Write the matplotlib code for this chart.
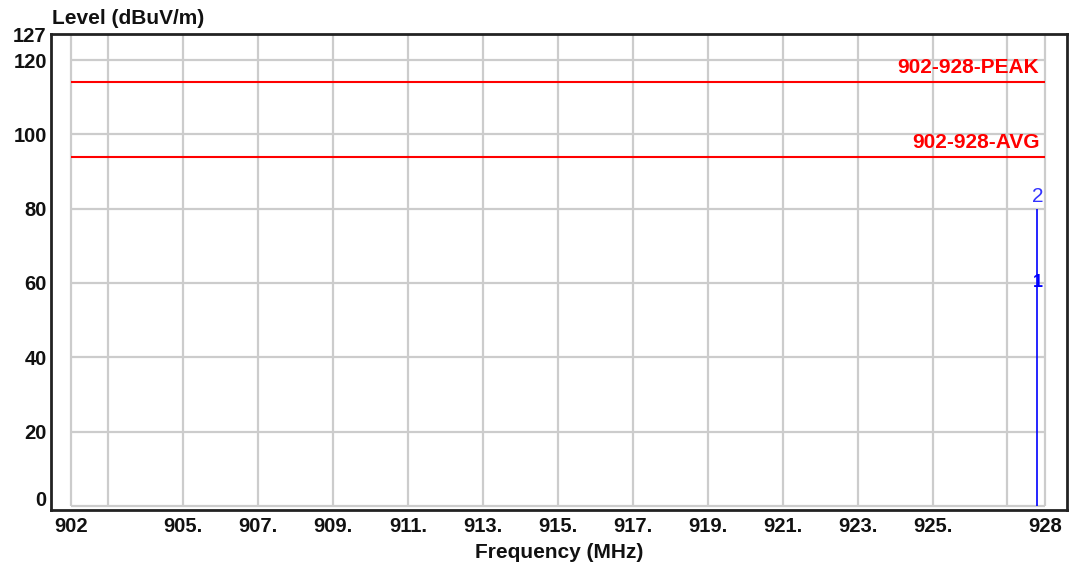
import matplotlib
matplotlib.use("Agg")
import matplotlib.pyplot as plt
from matplotlib.transforms import ScaledTranslation

plt.rcParams['font.family'] = ['Liberation Sans', 'DejaVu Sans']

# Axis ticks
xtick_values = [902, 905, 907, 909, 911, 913, 915, 917, 919, 921, 923, 925, 928]
xtick_labels = ["902", "905.", "907.", "909.", "911.", "913.", "915.", "917.", "919.",
                "921.", "923.", "925.", "928"]
xgrid_values = [902, 903, 905, 907, 909, 911, 913, 915, 917, 919, 921, 923, 925, 927, 928]
ytick_values = [0, 20, 40, 60, 80, 100, 120, 127]
ygrid_values = [0, 20, 40, 60, 80, 100, 120]

# Limit lines
limit_names = ["902-928-PEAK", "902-928-AVG"]
limit_levels = [114, 94]

# Measured emission and markers
emission_freq = 927.8
emission_level = 80
marker_labels = ["1", "2"]
marker_freqs = [927.8, 927.8]
marker_levels = [60, 80]

W, H = 1074, 569
fig = plt.figure(figsize=(W / 100, H / 100), dpi=100)
ax = fig.add_axes([51 / W, 1 - 510 / H, (1067 - 51) / W, (510 - 34) / H])

f_lo, f_hi = 902, 928
ax.set_xlim(901.47, 928.59)
ax.set_ylim(-1.1, 127)

grid_color = "#cccccc"
ax.vlines(xgrid_values, 0, 127, colors=grid_color, lw=1.6, zorder=1)
ax.hlines(ygrid_values, f_lo, f_hi, colors=grid_color, lw=1.6, zorder=1)

# Limit lines with their labels
for name, lvl in zip(limit_names, limit_levels):
    ax.hlines(lvl, f_lo, f_hi, colors="#ff0000", lw=1.5, zorder=2)
    ax.annotate(name, xy=(f_hi, lvl), xytext=(-4, 3.5), textcoords="offset points",
                ha="right", va="bottom", color="#ff0000", fontsize=15,
                fontweight="bold", zorder=3)

# Emission trace
ax.vlines(emission_freq, 0, emission_level, colors="#0000ff", lw=1.2, zorder=3)

# Markers
for lab, f, lvl in zip(marker_labels, marker_freqs, marker_levels):
    if lab == "2":
        ax.annotate(lab, xy=(f, lvl), xytext=(0, 2), textcoords="offset points",
                    ha="center", va="bottom", color="#3333ff", fontsize=15, zorder=4)
    else:
        ax.annotate(lab, xy=(f, lvl), xytext=(0, 0), textcoords="offset points",
                    ha="center", va="center", color="#0000ff", fontsize=13,
                    fontweight="bold", zorder=4)

tick_font = dict(fontsize=14.5, fontweight="bold", color="#111111")
ax.set_xticks(xtick_values)
ax.set_xticklabels(xtick_labels, **tick_font)
ax.set_yticks(ytick_values)
ax.set_yticklabels([str(v) for v in ytick_values], **tick_font)
ax.tick_params(axis="both", length=0)
ax.tick_params(axis="y", pad=3)
ax.tick_params(axis="x", pad=5)

# Bottom-most level label sits a little above its grid line
zero_label = ax.get_yticklabels()[0]
zero_label.set_transform(zero_label.get_transform() +
                         ScaledTranslation(0, 7 / 100, fig.dpi_scale_trans))

for s in ax.spines.values():
    s.set_color("#222222")
    s.set_linewidth(2)

ax.set_xlabel("Frequency (MHz)", fontsize=15, fontweight="bold", color="#111111",
              labelpad=5)
fig.text(52 / W, 1 - 18 / H, "Level (dBuV/m)", ha="left", va="center",
         fontsize=15, fontweight="bold", color="#111111")

fig.savefig("out.png", dpi=100, facecolor="white")
